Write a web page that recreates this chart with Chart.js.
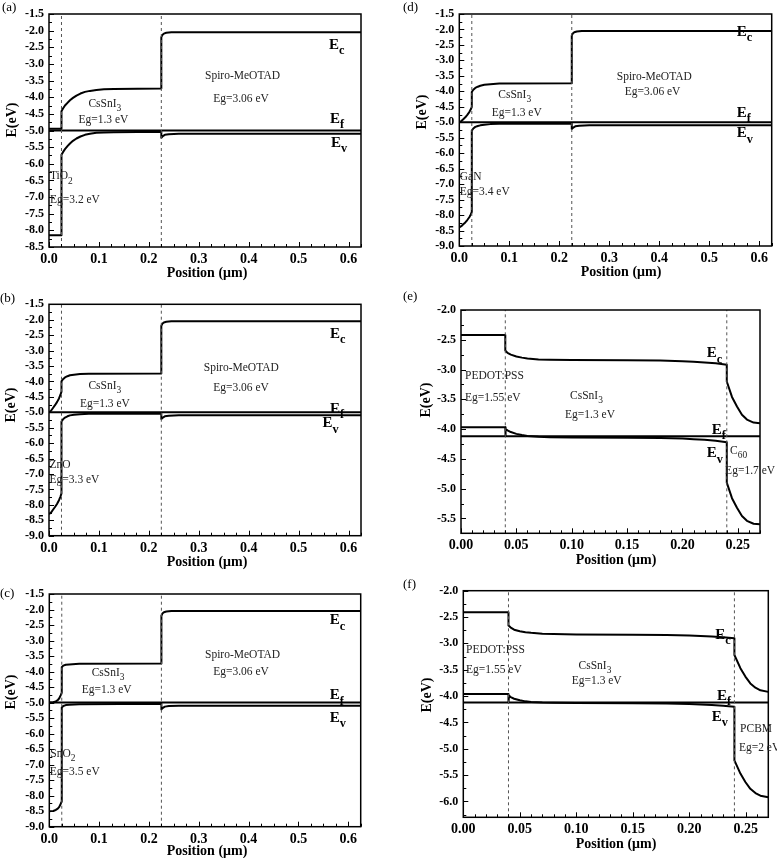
<!DOCTYPE html>
<html>
<head>
<meta charset="utf-8">
<script src="https://cdn.jsdelivr.net/npm/chart.js@4.4.0/dist/chart.umd.min.js"></script>
<style>
  body { margin: 0; background: #fff; }
  #page { position: relative; width: 777px; height: 858px; overflow: hidden; }
  canvas { position: absolute; }
</style>
</head>
<body>
<div id="page">
  <canvas id="pa"></canvas>
  <canvas id="pb"></canvas>
  <canvas id="pc"></canvas>
  <canvas id="pd"></canvas>
  <canvas id="pe"></canvas>
  <canvas id="pf"></canvas>
</div>
<script>
// ---- data (position in um, energy in eV) ----
const ecA = [[0,-4.95],[0.025,-4.95],[0.025,-4.42],[0.028,-4.34],[0.032,-4.25],[0.037,-4.17],[0.042,-4.09],[0.048,-4.02],[0.055,-3.95],[0.063,-3.89],[0.072,-3.84],[0.082,-3.81],[0.095,-3.78],[0.11,-3.76],[0.13,-3.75],[0.225,-3.74],[0.225,-2.2],[0.227,-2.13],[0.23,-2.09],[0.235,-2.065],[0.245,-2.05],[0.625,-2.05]];
const evA = [[0,-8.15],[0.025,-8.15],[0.025,-5.73],[0.028,-5.65],[0.032,-5.56],[0.037,-5.47],[0.042,-5.39],[0.048,-5.31],[0.055,-5.24],[0.063,-5.18],[0.072,-5.13],[0.082,-5.1],[0.095,-5.07],[0.11,-5.06],[0.13,-5.05],[0.225,-5.04],[0.225,-5.22],[0.228,-5.17],[0.232,-5.13],[0.24,-5.11],[0.26,-5.1],[0.625,-5.1]];

const ecB = [[0,-5.0],[0.004,-4.95],[0.008,-4.86],[0.012,-4.77],[0.016,-4.67],[0.02,-4.55],[0.023,-4.43],[0.025,-4.33],[0.025,-4.0],[0.028,-3.93],[0.032,-3.87],[0.037,-3.83],[0.042,-3.8],[0.05,-3.78],[0.062,-3.76],[0.08,-3.75],[0.225,-3.74],[0.225,-2.2],[0.227,-2.13],[0.23,-2.09],[0.235,-2.065],[0.245,-2.05],[0.625,-2.05]];
const evB = [[0,-8.3],[0.004,-8.25],[0.008,-8.16],[0.012,-8.07],[0.016,-7.97],[0.02,-7.85],[0.023,-7.73],[0.025,-7.63],[0.025,-5.3],[0.028,-5.23],[0.032,-5.17],[0.037,-5.13],[0.042,-5.1],[0.05,-5.08],[0.062,-5.06],[0.08,-5.05],[0.225,-5.04],[0.225,-5.22],[0.228,-5.17],[0.232,-5.13],[0.24,-5.11],[0.26,-5.1],[0.625,-5.1]];

const ecC = [[0,-5.0],[0.008,-4.99],[0.013,-4.96],[0.017,-4.92],[0.02,-4.86],[0.023,-4.76],[0.025,-4.68],[0.025,-3.86],[0.028,-3.81],[0.033,-3.78],[0.04,-3.77],[0.06,-3.75],[0.225,-3.74],[0.225,-2.2],[0.227,-2.13],[0.23,-2.09],[0.235,-2.065],[0.245,-2.05],[0.625,-2.05]];
const evC = [[0,-8.5],[0.008,-8.49],[0.013,-8.46],[0.017,-8.42],[0.02,-8.36],[0.023,-8.26],[0.025,-8.18],[0.025,-5.16],[0.028,-5.11],[0.033,-5.08],[0.04,-5.07],[0.06,-5.05],[0.225,-5.04],[0.225,-5.22],[0.228,-5.17],[0.232,-5.13],[0.24,-5.11],[0.26,-5.1],[0.625,-5.1]];

const ecD = [[0,-5.0],[0.004,-4.96],[0.008,-4.9],[0.012,-4.84],[0.016,-4.76],[0.02,-4.67],[0.023,-4.58],[0.025,-4.5],[0.025,-4.02],[0.028,-3.95],[0.032,-3.89],[0.037,-3.85],[0.042,-3.82],[0.05,-3.79],[0.062,-3.77],[0.08,-3.75],[0.225,-3.74],[0.225,-2.2],[0.227,-2.13],[0.23,-2.09],[0.235,-2.065],[0.245,-2.05],[0.625,-2.05]];
const evD = [[0,-8.4],[0.004,-8.36],[0.008,-8.3],[0.012,-8.24],[0.016,-8.16],[0.02,-8.07],[0.023,-7.98],[0.025,-7.9],[0.025,-5.27],[0.028,-5.2],[0.032,-5.15],[0.037,-5.12],[0.042,-5.1],[0.05,-5.08],[0.062,-5.06],[0.08,-5.05],[0.225,-5.04],[0.225,-5.22],[0.228,-5.17],[0.232,-5.13],[0.24,-5.11],[0.26,-5.1],[0.625,-5.1]];

const ecE = [[0,-2.42],[0.04,-2.42],[0.04,-2.68],[0.042,-2.72],[0.045,-2.75],[0.05,-2.78],[0.055,-2.8],[0.06,-2.815],[0.07,-2.83],[0.08,-2.835],[0.1,-2.84],[0.15,-2.845],[0.18,-2.85],[0.2,-2.86],[0.21,-2.87],[0.22,-2.88],[0.23,-2.895],[0.24,-2.92],[0.24,-3.2],[0.2447,-3.46],[0.2492,-3.62],[0.2537,-3.76],[0.2582,-3.84],[0.2642,-3.89],[0.27,-3.9]];
const evE = [[0,-3.97],[0.04,-3.97],[0.04,-4.12],[0.0405,-4.0],[0.042,-4.02],[0.045,-4.05],[0.05,-4.08],[0.055,-4.1],[0.06,-4.115],[0.07,-4.13],[0.08,-4.135],[0.1,-4.14],[0.15,-4.145],[0.18,-4.15],[0.2,-4.16],[0.21,-4.17],[0.22,-4.18],[0.23,-4.195],[0.24,-4.22],[0.24,-4.9],[0.2447,-5.16],[0.2492,-5.32],[0.2537,-5.46],[0.2582,-5.54],[0.2642,-5.59],[0.27,-5.6]];

const ecF = [[0,-2.41],[0.04,-2.41],[0.04,-2.66],[0.042,-2.7],[0.045,-2.74],[0.05,-2.77],[0.055,-2.79],[0.06,-2.8],[0.07,-2.815],[0.08,-2.82],[0.1,-2.83],[0.15,-2.835],[0.18,-2.84],[0.2,-2.85],[0.21,-2.86],[0.22,-2.87],[0.23,-2.885],[0.24,-2.9],[0.24,-3.22],[0.2453,-3.47],[0.2497,-3.63],[0.2541,-3.76],[0.2586,-3.84],[0.263,-3.89],[0.27,-3.92]];
const evF = [[0,-3.96],[0.04,-3.96],[0.04,-4.12],[0.0405,-3.99],[0.042,-4.02],[0.045,-4.05],[0.05,-4.08],[0.055,-4.1],[0.06,-4.11],[0.07,-4.12],[0.08,-4.125],[0.1,-4.13],[0.15,-4.135],[0.18,-4.14],[0.2,-4.15],[0.21,-4.16],[0.22,-4.17],[0.23,-4.185],[0.24,-4.2],[0.24,-5.22],[0.2453,-5.47],[0.2497,-5.63],[0.2541,-5.76],[0.2586,-5.84],[0.263,-5.89],[0.27,-5.92]];

// fermi level per panel a..f
const fermiLevels = [-5.0, -5.0, -5.0, -5.0, -4.12, -4.12];
// layer interfaces (dashed lines)
const ifaceSpiro = [0.025, 0.225];
const ifacePedot = [0.04, 0.24];

// tick values
const xTicksWide = [0, 0.1, 0.2, 0.3, 0.4, 0.5, 0.6];
const xTicksNarrow = [0, 0.05, 0.1, 0.15, 0.2, 0.25];
const yTicksA = [-1.5, -2.0, -2.5, -3.0, -3.5, -4.0, -4.5, -5.0, -5.5, -6.0, -6.5, -7.0, -7.5, -8.0, -8.5];
const yTicksBCD = [-1.5, -2.0, -2.5, -3.0, -3.5, -4.0, -4.5, -5.0, -5.5, -6.0, -6.5, -7.0, -7.5, -8.0, -8.5, -9.0];
const yTicksE = [-2.0, -2.5, -3.0, -3.5, -4.0, -4.5, -5.0, -5.5];
const yTicksF = [-2.0, -2.5, -3.0, -3.5, -4.0, -4.5, -5.0, -5.5, -6.0];

// text annotations: [text, x, y]  ("_" starts a subscript)
const notesA = [['CsSnI_3',0.079,-4.21],['Eg=1.3 eV',0.059,-4.68],['Spiro-MeOTAD',0.3125,-3.37],['Eg=3.06 eV',0.329,-4.05],['TiO_2',0.002,-6.38],['Eg=3.2 eV',0.002,-7.1]];
const notesB = [['CsSnI_3',0.079,-4.16],['Eg=1.3 eV',0.062,-4.74],['Spiro-MeOTAD',0.31,-3.57],['Eg=3.06 eV',0.329,-4.22],['ZnO',0.001,-6.71],['Eg=3.3 eV',0.001,-7.18]];
const notesC = [['CsSnI_3',0.085,-4.03],['Eg=1.3 eV',0.065,-4.58],['Spiro-MeOTAD',0.3125,-3.47],['Eg=3.06 eV',0.329,-4.01],['SnO_2',0.002,-6.66],['Eg=3.5 eV',0.001,-7.25]];
const notesD = [['CsSnI_3',0.078,-4.13],['Eg=1.3 eV',0.065,-4.7],['Spiro-MeOTAD',0.315,-3.53],['Eg=3.06 eV',0.331,-4.01],['GaN',0.001,-6.77],['Eg=3.4 eV',0.001,-7.25]];
const notesE = [['PEDOT:PSS',0.0036,-3.1],['Eg=1.55 eV',0.0036,-3.48],['CsSnI_3',0.0985,-3.44],['Eg=1.3 eV',0.094,-3.76],['C_60',0.243,-4.37],['Eg=1.7 eV',0.2385,-4.71]];
const notesF = [['PEDOT:PSS',0.0024,-3.12],['Eg=1.55 eV',0.0024,-3.5],['CsSnI_3',0.102,-3.42],['Eg=1.3 eV',0.096,-3.72],['PCBM',0.245,-4.63],['Eg=2 eV',0.244,-4.99]];

const bandsA = [['E_c',0.561,-2.43],['E_f',0.563,-4.65],['E_v',0.565,-5.37]];
const bandsB = [['E_c',0.563,-2.46],['E_f',0.563,-4.89],['E_v',0.548,-5.36]];
const bandsC = [['E_c',0.563,-2.35],['E_f',0.563,-4.77],['E_v',0.563,-5.5]];
const bandsD = [['E_c',0.555,-2.07],['E_f',0.555,-4.71],['E_v',0.555,-5.36]];
const bandsE = [['E_c',0.222,-2.73],['E_f',0.2265,-4.01],['E_v',0.222,-4.41]];
const bandsF = [['E_c',0.223,-2.84],['E_f',0.2246,-4.0],['E_v',0.22,-4.39]];

// ---- layout of the six panels (canvas box and plot area, page px) ----
const panels = [
  { id:'pa', tag:'(a)', box:[0,0,390,285],   area:[49,14,361,247],      xMax:0.625, yMin:-8.5,  yMax:-1.5, xTicks:xTicksWide,   yTicks:yTicksA,   xMinor:0.025, xDec:1, ec:ecA, ev:evA, ef:fermiLevels[0], iface:ifaceSpiro, notes:notesA, bands:bandsA, tagPos:[2,8],  yTitle:[12,120], xTitle:[207,273] },
  { id:'pb', tag:'(b)', box:[0,285,390,285], area:[49,304.3,361,535.7], xMax:0.625, yMin:-9.0,  yMax:-1.5, xTicks:xTicksWide,   yTicks:yTicksBCD, xMinor:0.025, xDec:1, ec:ecB, ev:evB, ef:fermiLevels[1], iface:ifaceSpiro, notes:notesB, bands:bandsB, tagPos:[0,14], yTitle:[11,120], xTitle:[207,277] },
  { id:'pc', tag:'(c)', box:[0,570,390,288], area:[49.3,594,360.7,826.7], xMax:0.625, yMin:-9.0, yMax:-1.5, xTicks:xTicksWide, yTicks:yTicksBCD, xMinor:0.025, xDec:1, ec:ecC, ev:evC, ef:fermiLevels[2], iface:ifaceSpiro, notes:notesC, bands:bandsC, tagPos:[0,24], yTitle:[11,122], xTitle:[207,281] },
  { id:'pd', tag:'(d)', box:[390,0,387,285], area:[459.3,14,771.7,246], xMax:0.625, yMin:-9.0,  yMax:-1.5, xTicks:xTicksWide,   yTicks:yTicksBCD, xMinor:0.025, xDec:1, ec:ecD, ev:evD, ef:fermiLevels[3], iface:ifaceSpiro, notes:notesD, bands:bandsD, tagPos:[13,8], yTitle:[32,112], xTitle:[231,272] },
  { id:'pe', tag:'(e)', box:[390,285,387,285], area:[461,310,760,533.3], xMax:0.27, yMin:-5.75, yMax:-2.0, xTicks:xTicksNarrow, yTicks:yTicksE,   xMinor:0.01,  xDec:2, ec:ecE, ev:evE, ef:fermiLevels[4], iface:ifacePedot, notes:notesE, bands:bandsE, tagPos:[13,12], yTitle:[36,115], xTitle:[226,275] },
  { id:'pf', tag:'(f)', box:[390,570,387,288], area:[463.3,590.7,768.3,817.3], xMax:0.27, yMin:-6.3, yMax:-2.0, xTicks:xTicksNarrow, yTicks:yTicksF, xMinor:0.01, xDec:2, ec:ecF, ev:evF, ef:fermiLevels[5], iface:ifacePedot, notes:notesF, bands:bandsF, tagPos:[13,15], yTitle:[37,125], xTitle:[226,274] }
];

const SERIF = '"Liberation Serif", "Times New Roman", serif';
const font = (px, bold) => (bold ? 'bold ' : '') + px + 'px ' + SERIF;

// text with an optional subscript after "_"
function richText(ctx, s, x, y, size, bold, color) {
  const [main, sub] = s.split('_');
  ctx.fillStyle = color;
  ctx.textAlign = 'left';
  ctx.textBaseline = 'middle';
  ctx.font = font(size, bold);
  ctx.fillText(main, x, y);
  if (sub) {
    const w = ctx.measureText(main).width;
    ctx.font = font(size * 0.82, bold);
    ctx.fillText(sub, x + w, y + size * 0.4);
  }
}

function decor(p) {
  return {
    id: 'decor',
    afterDraw(chart) {
      const { ctx, chartArea: a, scales: { x, y } } = chart;
      ctx.save();
      // frame
      ctx.strokeStyle = '#000';
      ctx.lineWidth = 1.5;
      ctx.strokeRect(a.left, a.top, a.right - a.left, a.bottom - a.top);
      // inward ticks on bottom and left axes
      ctx.lineWidth = 1;
      ctx.beginPath();
      for (let v = 0; v <= p.xMax + 1e-9; v += p.xMinor) {
        const px = Math.round(x.getPixelForValue(v)) + 0.5;
        const major = p.xTicks.some(t => Math.abs(t - v) < 1e-6);
        ctx.moveTo(px, a.bottom);
        ctx.lineTo(px, a.bottom - (major ? 5 : 3));
      }
      for (let v = p.yTicks[0]; v >= p.yMin - 1e-9; v -= 0.25) {
        const py = Math.round(y.getPixelForValue(v)) + 0.5;
        const major = p.yTicks.some(t => Math.abs(t - v) < 1e-6);
        ctx.moveTo(a.left, py);
        ctx.lineTo(a.left + (major ? 5 : 3), py);
      }
      ctx.stroke();
      // region labels
      p.notes.forEach(([t, vx, vy]) => {
        richText(ctx, t, x.getPixelForValue(vx), y.getPixelForValue(vy), 11.5, false, '#222');
      });
      // band labels
      p.bands.forEach(([t, vx, vy]) => {
        richText(ctx, t, x.getPixelForValue(vx), y.getPixelForValue(vy), 15, true, '#000');
      });
      // panel tag
      ctx.fillStyle = '#000';
      ctx.font = font(13, false);
      ctx.textAlign = 'left';
      ctx.textBaseline = 'middle';
      ctx.fillText(p.tag, p.tagPos[0], p.tagPos[1]);
      // axis titles
      ctx.font = font(14, true);
      ctx.textAlign = 'center';
      ctx.fillText('Position (\u03bcm)', p.xTitle[0], p.xTitle[1]);
      ctx.translate(p.yTitle[0], p.yTitle[1]);
      ctx.rotate(-Math.PI / 2);
      ctx.fillText('E(eV)', 0, 0);
      ctx.restore();
    }
  };
}

function makeChart(p) {
  const [cx, cy, cw, ch] = p.box;
  const [l, t, r, b] = p.area;
  const cv = document.getElementById(p.id);
  cv.width = cw;
  cv.height = ch;
  cv.style.left = cx + 'px';
  cv.style.top = cy + 'px';

  const toXY = arr => arr.map(([x, y]) => ({ x, y }));
  const datasets = p.iface.map(xi => ({
    data: [{ x: xi, y: p.yMin }, { x: xi, y: p.yMax }],
    borderColor: '#555', borderWidth: 1, borderDash: [3, 3]
  }));
  datasets.push({ data: [{ x: 0, y: p.ef }, { x: p.xMax, y: p.ef }], borderColor: '#000', borderWidth: 2 });
  datasets.push({ data: toXY(p.ec), borderColor: '#000', borderWidth: 2 });
  datasets.push({ data: toXY(p.ev), borderColor: '#000', borderWidth: 2 });

  new Chart(cv, {
    type: 'line',
    data: { datasets },
    options: {
      responsive: false,
      animation: false,
      events: [],
      layout: { padding: { left: 0, top: t - cy, right: cx + cw - r, bottom: 0 } },
      plugins: { legend: { display: false }, tooltip: { enabled: false } },
      elements: { point: { radius: 0 }, line: { tension: 0, fill: false, borderJoinStyle: 'round' } },
      scales: {
        x: {
          type: 'linear', min: 0, max: p.xMax,
          afterFit: s => { s.height = cy + ch - b; },
          afterBuildTicks: s => { s.ticks = p.xTicks.map(v => ({ value: v })); },
          grid: { display: false, drawTicks: false },
          border: { display: false },
          ticks: {
            autoSkip: false, maxRotation: 0, padding: 4, color: '#000',
            font: { family: SERIF, size: 14, weight: 'bold' },
            callback: v => Number(v).toFixed(p.xDec)
          }
        },
        y: {
          type: 'linear', min: p.yMin, max: p.yMax,
          afterFit: s => { s.width = l - cx; },
          afterBuildTicks: s => { s.ticks = p.yTicks.map(v => ({ value: v })); },
          grid: { display: false, drawTicks: false },
          border: { display: false },
          ticks: {
            autoSkip: false, padding: 5, color: '#000',
            font: { family: SERIF, size: 12, weight: 'bold' },
            callback: v => Number(v).toFixed(1)
          }
        }
      }
    },
    plugins: [decor(p)]
  });
}

panels.forEach(makeChart);
</script>
</body>
</html>
